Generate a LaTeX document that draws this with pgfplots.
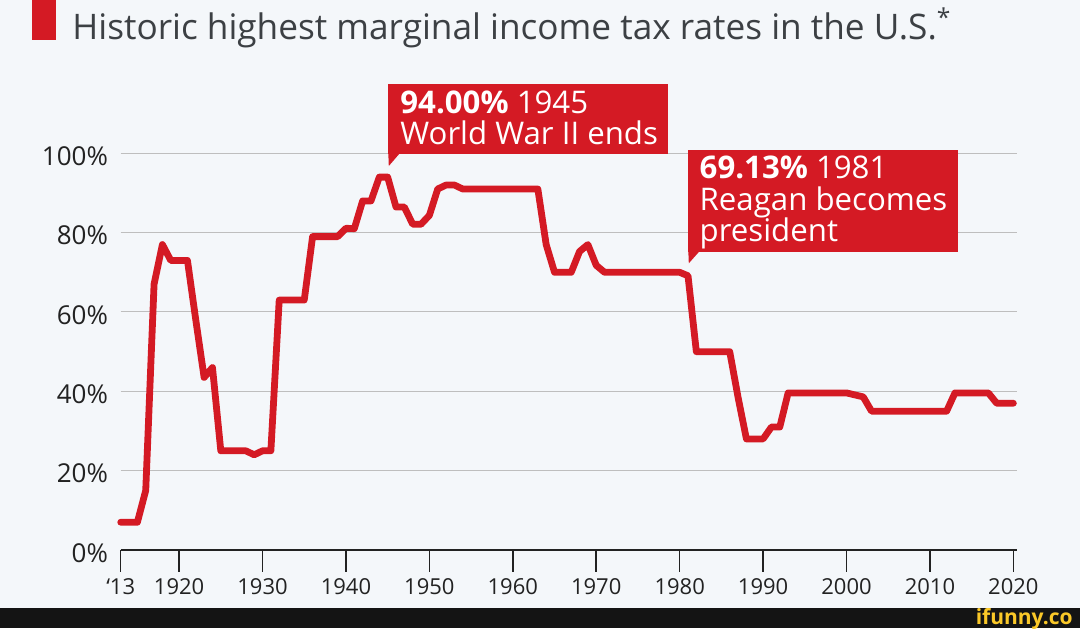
\documentclass[border=0pt]{standalone}
\usepackage{fontspec}
\setmainfont{Open Sans}
\usepackage{pgfplots}
\pgfplotsset{compat=1.18}
\definecolor{bg}{RGB}{244,247,250}
\definecolor{sred}{RGB}{212,26,36}
\definecolor{txt}{RGB}{34,34,34}
\definecolor{ttl}{RGB}{60,64,68}
\definecolor{gridc}{RGB}{190,190,190}

\begin{document}
\begin{tikzpicture}
\useasboundingbox (0,0) rectangle (540pt,314pt);
\fill[bg] (0,0) rectangle (540pt,314pt);
\begin{axis}[
    at={(60.35pt,39pt)}, anchor=south west,
    width=448pt, height=198.35pt, scale only axis,
    xmin=1913, xmax=2020.4, ymin=0, ymax=100,
    axis lines*=left,
    y axis line style={draw=none},
    x axis line style={txt, line width=0.75pt},
    xtick={1913,1920,1930,1940,1950,1960,1970,1980,1990,2000,2010,2020},
    xticklabels={‘13,1920,1930,1940,1950,1960,1970,1980,1990,2000,2010,2020},
    ytick={0,20,40,60,80,100},
    yticklabels={0\%,20\%,40\%,60\%,80\%,100\%},
    tick align=outside,
    major tick length=10.85pt,
    xtick style={txt, line width=0.75pt},
    ytick style={draw=none},
    xticklabel style={font=\fontsize{11}{13}\selectfont, text=txt, anchor=north, inner sep=0pt, yshift=-3.2pt},
    yticklabel style={font=\fontsize{13}{15}\selectfont, text=txt, anchor=east, inner sep=0pt, xshift=4.65pt, yshift=-1.5pt},
    /pgf/number format/assume math mode=true,
    ymajorgrids, grid style={gridc, line width=0.5pt},
    clip=false,
  ]
  \addplot[sred, line width=3.4pt, line join=round, line cap=round] coordinates {
    (1913,7) (1914,7) (1915,7) (1916,15) (1917,67) (1918,77) (1919,73)
    (1920,73) (1921,73) (1922,58) (1923,43.5) (1924,46) (1925,25) (1926,25)
    (1927,25) (1928,25) (1929,24) (1930,25) (1931,25) (1932,63) (1933,63)
    (1934,63) (1935,63) (1936,79) (1937,79) (1938,79) (1939,79) (1940,81.1)
    (1941,81) (1942,88) (1943,88) (1944,94) (1945,94) (1946,86.45) (1947,86.45)
    (1948,82.13) (1949,82.13) (1950,84.36) (1951,91) (1952,92) (1953,92)
    (1954,91) (1955,91) (1956,91) (1957,91) (1958,91) (1959,91) (1960,91)
    (1961,91) (1962,91) (1963,91) (1964,77) (1965,70) (1966,70) (1967,70)
    (1968,75.25) (1969,77) (1970,71.75) (1971,70) (1972,70) (1973,70) (1974,70)
    (1975,70) (1976,70) (1977,70) (1978,70) (1979,70) (1980,70) (1981,69.13)
    (1982,50) (1983,50) (1984,50) (1985,50) (1986,50) (1987,38.5) (1988,28)
    (1989,28) (1990,28) (1991,31) (1992,31) (1993,39.6) (1994,39.6) (1995,39.6)
    (1996,39.6) (1997,39.6) (1998,39.6) (1999,39.6) (2000,39.6) (2001,39.1)
    (2002,38.6) (2003,35) (2004,35) (2005,35) (2006,35) (2007,35) (2008,35)
    (2009,35) (2010,35) (2011,35) (2012,35) (2013,39.6) (2014,39.6) (2015,39.6)
    (2016,39.6) (2017,39.6) (2018,37) (2019,37) (2020,37)
  };
\end{axis}
% overlay in image pixels, y downwards
\begin{scope}[x=0.5pt, y=-0.5pt, shift={(0pt,314pt)}]
  \fill[sred] (31.7,0) rectangle (55.7,40);
  \node[anchor=base west, inner sep=0pt, text=ttl, font=\fontsize{17.6}{20}\selectfont]
    at (72,39.3) {Historic highest marginal income tax rates in the U.S.\textsuperscript{*}};
  % WWII note
  \fill[sred] (388.3,84) rectangle (668.3,154);
  \fill[sred] (388.3,153) -- (400,153) -- (388.8,166) -- cycle;
  \node[anchor=base west, inner sep=0pt, text=white, font=\fontsize{15.6}{17}\selectfont]
    at (400,113.3) {\textbf{94.00\%} 1945};
  \node[anchor=base west, inner sep=0pt, text=white, font=\fontsize{15.6}{17}\selectfont]
    at (400,144) {World War II ends};
  % Reagan note
  \fill[sred] (688.3,150) rectangle (957.7,251.7);
  \fill[sred] (688.3,250.7) -- (700,250.7) -- (688.8,263.3) -- cycle;
  \node[anchor=base west, inner sep=0pt, text=white, font=\fontsize{15.6}{17}\selectfont]
    at (699.3,178.3) {\textbf{69.13\%} 1981};
  \node[anchor=base west, inner sep=0pt, text=white, font=\fontsize{15.6}{17}\selectfont]
    at (699.3,210) {Reagan becomes};
  \node[anchor=base west, inner sep=0pt, text=white, font=\fontsize{15.6}{17}\selectfont]
    at (699.3,241) {president};
  % watermark strip
  \fill[black!92] (0,608) rectangle (1080,628);
  \node[anchor=base east, inner sep=0pt, text={rgb,255:red,250;green,200;blue,40}, font=\bfseries\fontsize{10.5}{12}\selectfont]
    at (1073,624) {ifunny.co};
\end{scope}
\end{tikzpicture}
\end{document}
